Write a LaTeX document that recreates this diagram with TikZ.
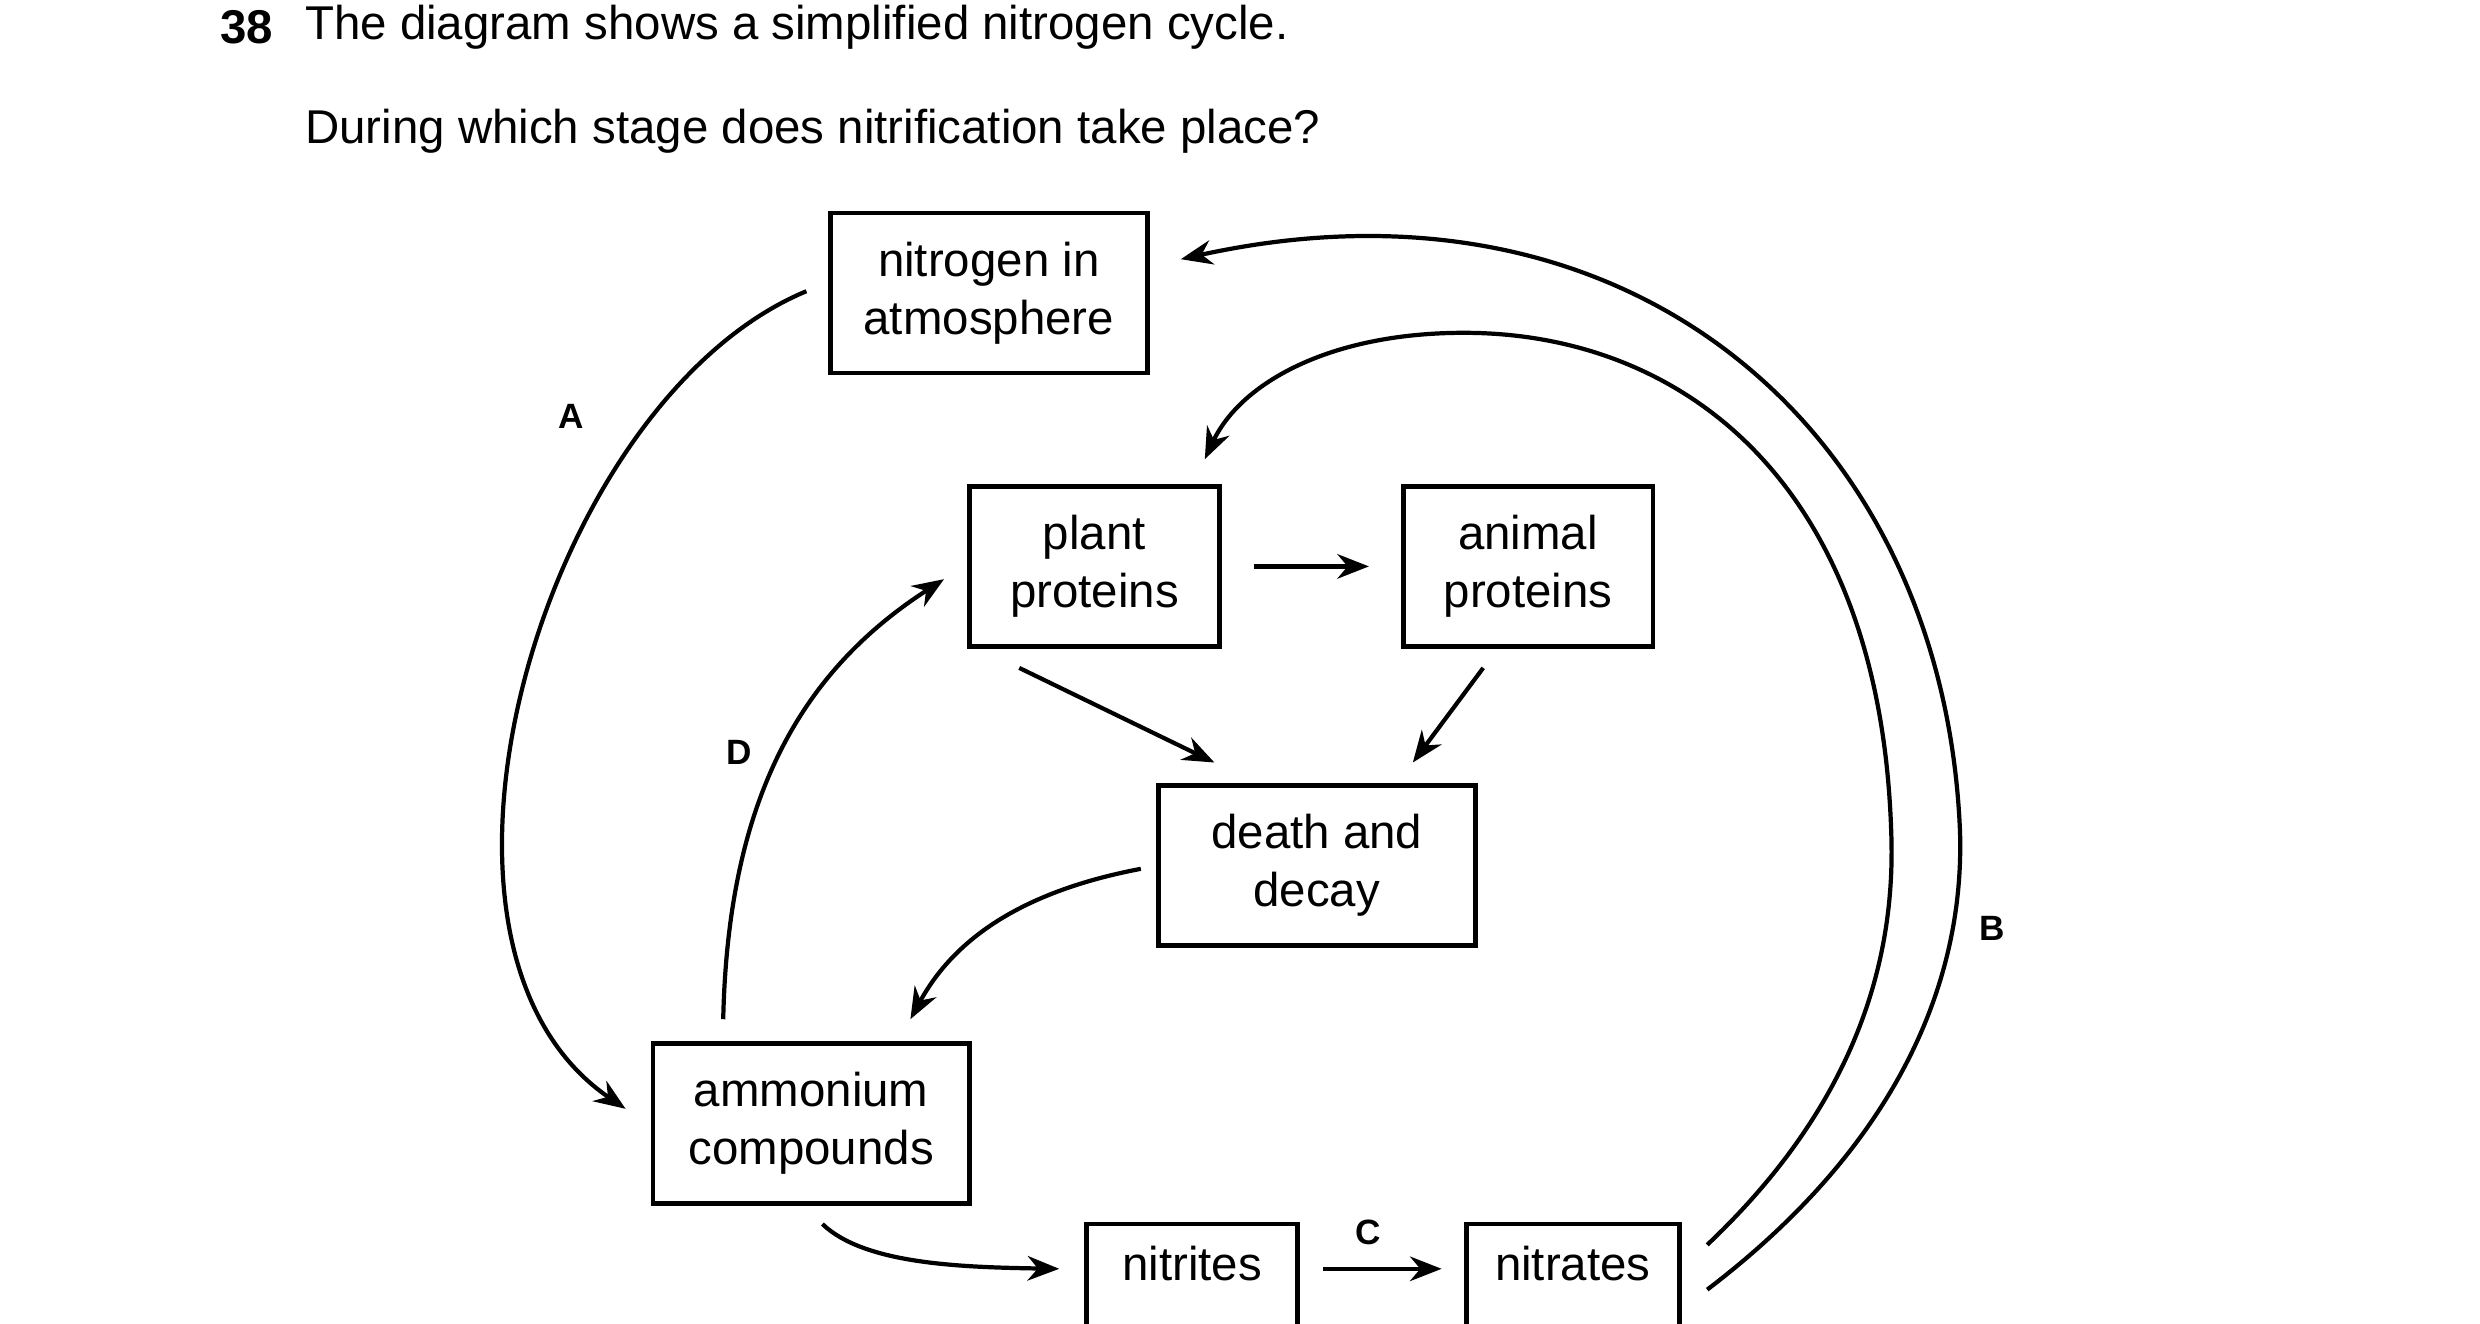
\documentclass[tikz,border=0pt]{standalone}
\usepackage{fontspec}
\setmainfont{Liberation Sans}
\usetikzlibrary{arrows.meta,positioning}
\tikzset{
  box/.style={draw, line width=1.3pt, minimum width=198*0.016cm, minimum height=100*0.016cm, align=center, inner sep=0pt},
  flow/.style={line width=1.2pt, -{Stealth[length=9pt,width=7pt]}},
  lbl/.style={font=\bfseries}
}
\begin{document}
\begin{tikzpicture}[x=0.016cm,y=-0.016cm,font=\fontsize{13.5}{16.5}\selectfont]
\useasboundingbox (0,0) rectangle (1550,827);
\clip (0,0) rectangle (1550,827);
\node [anchor=west,font=\fontsize{13.5}{16.5}\selectfont\bfseries] (num) at (130,17) {38};
\node [anchor=west] (q1) at (183,17) {The diagram shows a simplified nitrogen cycle.};
\node [anchor=west] (q2) at (183,82) {During which stage does nitrification take place?};

\node [box] (atm) at (618,183) {nitrogen in\\atmosphere};
\node [box, minimum width=156*0.016cm] (plant) at (684,354) {plant\\proteins};
\node [box, minimum width=156*0.016cm] (animal) at (955,354) {animal\\proteins};
\node [box] (death) at (823,541) {death and\\decay};
\node [box] (amm) at (507,702) {ammonium\\compounds};
\node [box, minimum width=132*0.016cm, minimum height=120*0.016cm] (nitri) at (745,825) {};
\node [anchor=base] at (745,800) {nitrites};
\node [box, minimum width=133*0.016cm, minimum height=120*0.016cm] (nitra) at (983,825) {};
\node [anchor=base] at (983,800) {nitrates};

\coordinate (aS) at (504,182);
\coordinate (aE) at (391,693);
\draw [flow] (aS) .. controls (340,250) and (240,590) .. (aE);
\coordinate (bS) at (1067,806);
\coordinate (bE) at (738,162);
\draw [flow] (bS) .. controls (1180,720) and (1228,620) .. (1225,520)
  .. controls (1215,270) and (1020,100) .. (bE);
\coordinate (iS) at (1067,778);
\coordinate (iE) at (753,287);
\draw [flow] (iS) .. controls (1160,690) and (1185,600) .. (1182,520)
  .. controls (1175,300) and (1050,208) .. (915,208)
  .. controls (830,208) and (775,240) .. (iE);
\coordinate (dS) at (452,637);
\coordinate (dE) at (590,362);
\draw [flow] (dS) .. controls (455,500) and (500,420) .. (dE);
\coordinate (eS) at (713,543);
\coordinate (eE) at (569,637);
\draw [flow] (eS) .. controls (650,555) and (600,580) .. (eE);
\draw [flow, shorten <=20*0.016cm, shorten >=20*0.016cm] (plant) -- (animal);
\draw [flow] ([xshift=-47*0.016cm,yshift=-12*0.016cm]plant.south) -- ([xshift=-64*0.016cm,yshift=13*0.016cm]death.north);
\draw [flow] ([xshift=-28*0.016cm,yshift=-12*0.016cm]animal.south) -- ([xshift=60*0.016cm,yshift=13*0.016cm]death.north);
\coordinate (mS) at (514,765);
\draw [flow] (mS) .. controls (540,790) and (600,792) .. (662,793);
\draw [flow] (827,793) -- (901,793);

\node [lbl] at (357,260) {A};
\node [lbl] at (1245,580) {B};
\node [lbl] at (855,770) {C};
\node [lbl] at (462,470) {D};
\end{tikzpicture}
\end{document}
